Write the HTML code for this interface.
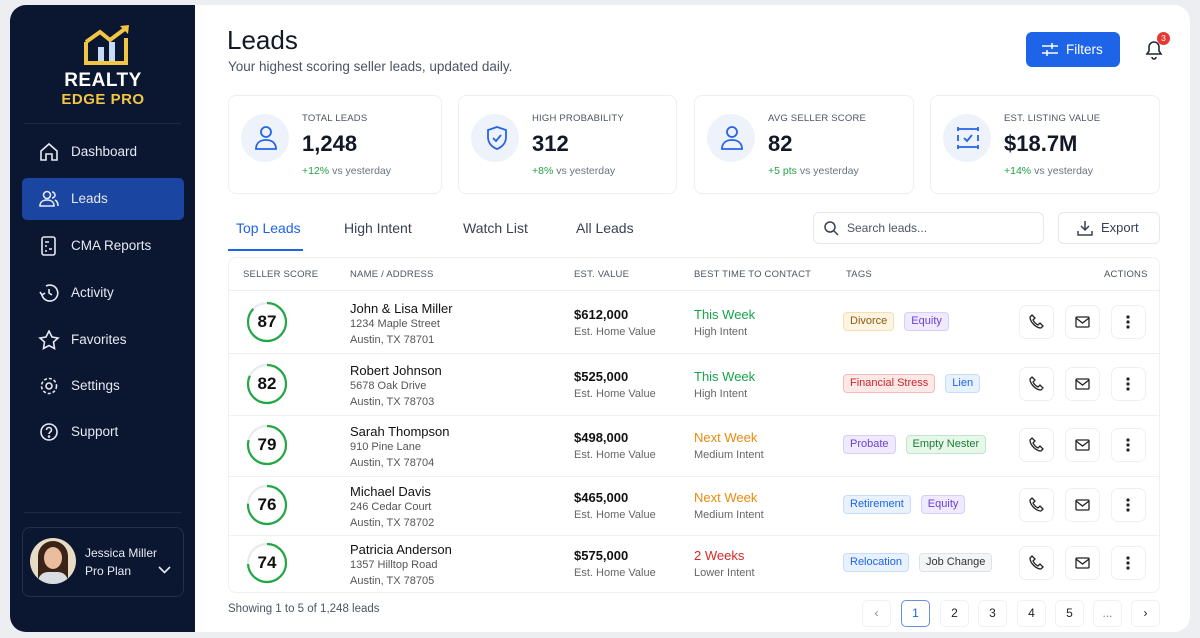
<!DOCTYPE html>
<html><head><meta charset="utf-8"><style>
*{margin:0;padding:0;box-sizing:border-box}
body{width:1200px;height:638px;background:#eceef2;font-family:"Liberation Sans",sans-serif;position:relative;overflow:hidden;color:#111827}
.a{position:absolute;white-space:nowrap}
#sb{position:absolute;left:10px;top:5px;width:186px;height:627px;background:#0b1731;border-radius:16px 0 0 16px}
#mn{position:absolute;left:195px;top:5px;width:995px;height:627px;background:#fff;border-radius:0 16px 16px 0}
.nav{position:absolute;left:71px;color:#e5e9f2;font-size:13.5px;line-height:20px}
.ic{position:absolute;left:38px}
.card{position:absolute;top:95px;height:99px;border:1px solid #eceff3;border-radius:8px;background:#fff}
.cic{position:absolute;left:12px;top:18px;width:48px;height:48px;border-radius:50%;background:#eef3fb}
.cl{position:absolute;left:73px;top:17px;font-size:9.5px;color:#4b5563;letter-spacing:.2px}
.cv{position:absolute;left:73px;top:35px;font-size:22px;font-weight:bold;color:#111827}
.cc{position:absolute;left:73px;top:69px;font-size:10.5px;color:#6b7280}
.cc b{color:#22a046;font-weight:normal}
.th{position:absolute;top:269px;font-size:9.5px;color:#4b5563;letter-spacing:.2px}
.tags{position:absolute;left:843px;display:flex;gap:10px}
.tag{height:19px;line-height:17px;font-size:11px;padding:0 6px;border-radius:4px;border:1px solid;white-space:nowrap}
.btn{position:absolute;width:35px;height:34px;border:1px solid #edf0f3;border-radius:7px;background:#fff}
.pg{position:absolute;top:600px;width:29px;height:27px;border:1px solid #f0f1f4;border-radius:5px;font-size:12px;text-align:center;line-height:25px;color:#222}
</style></head><body>
<div id="sb"></div>
<div id="mn"></div>
<svg class="a" style="left:82px;top:24px" width="50" height="42" viewBox="0 0 50 42">
<path d="M4 18 L18 8 L28 16 L44 4" fill="none" stroke="#f3c544" stroke-width="4"/>
<path d="M38 2 L47 1 L46 10 Z" fill="#f3c544"/>
<path d="M4 18 V39 H44 V14" fill="none" stroke="#f3c544" stroke-width="4"/>
<rect x="16" y="23" width="6" height="14" fill="#c6dbf5"/><rect x="27" y="18" width="6" height="19" fill="#c6dbf5"/>
</svg>
<div class="a" style="left:10px;width:186px;text-align:center;top:70px;color:#fff;font-weight:bold;font-size:19px;letter-spacing:.5px">REALTY</div>
<div class="a" style="left:10px;width:186px;text-align:center;top:91px;color:#f3c544;font-weight:bold;font-size:15px;letter-spacing:.5px">EDGE PRO</div>
<div class="a" style="left:24px;top:123px;width:157px;height:1px;background:#1f2b45"></div>
<div class="a" style="left:22px;top:178px;width:162px;height:42px;background:#1a45a0;border-radius:5px"></div>
<svg class="ic" style="top:142px" width="22" height="20" viewBox="0 0 22 20" fill="none" stroke="#e5e9f2" stroke-width="1.6"><path d="M3 9 L11 2 L19 9 V18 H14 V12 H8 V18 H3 Z"/></svg>
<div class="nav" style="top:142px">Dashboard</div>
<svg class="ic" style="top:189px" width="22" height="20" viewBox="0 0 22 20" fill="none" stroke="#e5e9f2" stroke-width="1.6"><circle cx="9" cy="6" r="3.5"/><path d="M2 17c0-4 3-6 7-6s7 2 7 6z"/><path d="M14 3a3 3 0 010 6M17 11c2 1 3 3 3 6"/></svg>
<div class="nav" style="top:189px">Leads</div>
<svg class="ic" style="top:236px" width="22" height="20" viewBox="0 0 22 20" fill="none" stroke="#e5e9f2" stroke-width="1.6"><rect x="4" y="1" width="13" height="18" rx="2"/><path d="M7 6h4M7 10h2M11 13h3M7 15h2"/></svg>
<div class="nav" style="top:236px">CMA Reports</div>
<svg class="ic" style="top:283px" width="22" height="20" viewBox="0 0 22 20" fill="none" stroke="#e5e9f2" stroke-width="1.6"><path d="M4 12a8 8 0 104-9"/><path d="M11 6v4l3 2M2 9l2 3 3-2"/></svg>
<div class="nav" style="top:283px">Activity</div>
<svg class="ic" style="top:330px" width="22" height="20" viewBox="0 0 22 20" fill="none" stroke="#e5e9f2" stroke-width="1.6"><path d="M11 1l3 6 6 1-4.5 4 1 6.5L11 15.5 5.5 18.5l1-6.5L2 8l6-1z"/></svg>
<div class="nav" style="top:330px">Favorites</div>
<svg class="ic" style="top:376px" width="22" height="20" viewBox="0 0 22 20" fill="none" stroke="#e5e9f2" stroke-width="1.6"><circle cx="11" cy="10" r="3"/><circle cx="11" cy="10" r="7.5" stroke-dasharray="3 2"/></svg>
<div class="nav" style="top:376px">Settings</div>
<svg class="ic" style="top:422px" width="22" height="20" viewBox="0 0 22 20" fill="none" stroke="#e5e9f2" stroke-width="1.6"><circle cx="11" cy="10" r="8"/><path d="M8.5 8a2.5 2.5 0 115 0c0 2-2.5 2-2.5 4"/><circle cx="11" cy="14.5" r=".5"/></svg>
<div class="nav" style="top:422px">Support</div>
<div class="a" style="left:24px;top:512px;width:157px;height:1px;background:#1f2b45"></div>
<div class="a" style="left:22px;top:527px;width:162px;height:70px;border:1px solid #23304a;border-radius:8px"></div>
<div class="a" style="left:30px;top:538px;width:46px;height:46px;border-radius:50%;background:#e8dcc5;overflow:hidden">
<div style="position:absolute;left:8px;top:3px;width:30px;height:44px;border-radius:15px 15px 4px 4px;background:#3a2418"></div>
<div style="position:absolute;left:14px;top:9px;width:18px;height:22px;border-radius:50%;background:#e9bd9d"></div>
<div style="position:absolute;left:8px;top:34px;width:30px;height:14px;border-radius:10px 10px 0 0;background:#d9dde2"></div></div>
<div class="a" style="left:85px;top:546px;color:#e8ebf2;font-size:12px">Jessica Miller</div>
<div class="a" style="left:85px;top:564px;color:#e8ebf2;font-size:12px">Pro Plan</div>
<svg class="a" style="left:158px;top:566px" width="13" height="9" viewBox="0 0 13 9" fill="none" stroke="#e8ebf2" stroke-width="1.6"><path d="M1 1l5.5 5.5L12 1"/></svg>

<div class="a" style="left:227px;top:25px;font-size:26px;color:#111827">Leads</div>
<div class="a" style="left:228px;top:59px;font-size:13.5px;color:#4b5563">Your highest scoring seller leads, updated daily.</div>
<div class="a" style="left:1026px;top:32px;width:94px;height:35px;background:#1d64e8;border-radius:6px;color:#fff;font-size:13.5px;line-height:35px;padding-left:40px">Filters</div>
<svg class="a" style="left:1042px;top:43px" width="16" height="13" viewBox="0 0 16 13" stroke="#fff" stroke-width="1.5"><path d="M0 3h16M0 10h16M10 0v6M5 7v6"/></svg>
<svg class="a" style="left:1143px;top:38px" width="22" height="22" viewBox="0 0 22 22" fill="none" stroke="#1f2937" stroke-width="1.6"><path d="M4 16h14l-2-3V9a5 5 0 00-10 0v4z"/><path d="M9 19a2 2 0 004 0"/></svg>
<div class="a" style="left:1157px;top:32px;width:13px;height:13px;border-radius:50%;background:#e53935;color:#fff;font-size:8.5px;text-align:center;line-height:13px">3</div>

<div class="card" style="left:228px;width:214px"><div class="cic"></div>
<svg class="a" style="left:25px;top:29px" width="24" height="26" viewBox="0 0 24 26" fill="none" stroke="#2563eb" stroke-width="1.8"><circle cx="12" cy="7" r="5"/><path d="M2 24c0-6 4-9 10-9s10 3 10 9z"/></svg>
<div class="cl">TOTAL LEADS</div><div class="cv">1,248</div><div class="cc"><b>+12%</b> vs yesterday</div></div>
<div class="card" style="left:458px;width:219px"><div class="cic"></div>
<svg class="a" style="left:26px;top:29px" width="24" height="26" viewBox="0 0 24 26" fill="none" stroke="#2563eb" stroke-width="1.8"><path d="M12 2l9 3v7c0 6-4 10-9 12-5-2-9-6-9-12V5z"/><path d="M8 13l3 3 5-6"/></svg>
<div class="cl">HIGH PROBABILITY</div><div class="cv">312</div><div class="cc"><b>+8%</b> vs yesterday</div></div>
<div class="card" style="left:694px;width:220px"><div class="cic"></div>
<svg class="a" style="left:25px;top:29px" width="24" height="26" viewBox="0 0 24 26" fill="none" stroke="#2563eb" stroke-width="1.8"><circle cx="12" cy="7" r="5"/><path d="M2 24c0-6 4-9 10-9s10 3 10 9z"/></svg>
<div class="cl">AVG SELLER SCORE</div><div class="cv">82</div><div class="cc"><b>+5 pts</b> vs yesterday</div></div>
<div class="card" style="left:930px;width:230px"><div class="cic"></div>
<svg class="a" style="left:24px;top:30px" width="26" height="24" viewBox="0 0 26 24" fill="none" stroke="#2563eb" stroke-width="1.8"><path d="M3 3h20M3 21h20M3 1v4M23 1v4M3 19v4M23 19v4M3 9v6M23 9v6M9 12l3 3 5-6"/></svg>
<div class="cl">EST. LISTING VALUE</div><div class="cv">$18.7M</div><div class="cc"><b>+14%</b> vs yesterday</div></div>

<div class="a" style="left:236px;top:220px;font-size:14px;color:#1d64e8">Top Leads</div>
<div class="a" style="left:228px;top:249px;width:75px;height:2px;background:#1d64e8"></div>
<div class="a" style="left:344px;top:220px;font-size:14px;color:#374151">High Intent</div>
<div class="a" style="left:463px;top:220px;font-size:14px;color:#374151">Watch List</div>
<div class="a" style="left:576px;top:220px;font-size:14px;color:#374151">All Leads</div>
<div class="a" style="left:813px;top:212px;width:231px;height:32px;border:1px solid #e5e7eb;border-radius:6px"></div>
<svg class="a" style="left:824px;top:221px" width="15" height="15" viewBox="0 0 15 15" fill="none" stroke="#374151" stroke-width="1.5"><circle cx="6" cy="6" r="5"/><path d="M10 10l4 4"/></svg>
<div class="a" style="left:847px;top:221px;font-size:12px;color:#4b5563">Search leads...</div>
<div class="a" style="left:1058px;top:212px;width:102px;height:32px;border:1px solid #e5e7eb;border-radius:6px;font-size:13px;line-height:30px;padding-left:42px;color:#374151">Export</div>
<svg class="a" style="left:1077px;top:220px" width="16" height="16" viewBox="0 0 16 16" fill="none" stroke="#374151" stroke-width="1.5"><path d="M8 1v9M4 6l4 4 4-4M1 11v4h14v-4"/></svg>

<div class="a" style="left:228px;top:257px;width:932px;height:336px;border:1px solid #eef0f3;border-radius:8px"></div>
<div class="th" style="left:243px">SELLER SCORE</div><div class="th" style="left:350px">NAME / ADDRESS</div>
<div class="th" style="left:574px">EST. VALUE</div><div class="th" style="left:694px">BEST TIME TO CONTACT</div>
<div class="th" style="left:846px">TAGS</div><div class="th" style="left:1104px">ACTIONS</div>
<div id="rows"></div>
<script>
var R=[[322,87,"John &amp; Lisa Miller","1234 Maple Street","Austin, TX 78701","$612,000","This Week","#16a34a","High Intent",[["Divorce","#fdf4e1","#f8dfae","#8a5a13"],["Equity","#efeafd","#d9cdfa","#6d3fd6"]]],
[384,82,"Robert Johnson","5678 Oak Drive","Austin, TX 78703","$525,000","This Week","#16a34a","High Intent",[["Financial Stress","#fde8e8","#f6b9b9","#c62828"],["Lien","#e8f1fe","#c7dcfb","#1d64e8"]]],
[445,79,"Sarah Thompson","910 Pine Lane","Austin, TX 78704","$498,000","Next Week","#ea8a0c","Medium Intent",[["Probate","#efeafd","#d9cdfa","#6d3fd6"],["Empty Nester","#e7f7ea","#bfe6c8","#1c7c36"]]],
[505,76,"Michael Davis","246 Cedar Court","Austin, TX 78702","$465,000","Next Week","#ea8a0c","Medium Intent",[["Retirement","#e8f1fe","#c7dcfb","#1d64e8"],["Equity","#efeafd","#d9cdfa","#6d3fd6"]]],
[563,74,"Patricia Anderson","1357 Hilltop Road","Austin, TX 78705","$575,000","2 Weeks","#dc2626","Lower Intent",[["Relocation","#e8f1fe","#c7dcfb","#1d64e8"],["Job Change","#f4f5f7","#dfe2e6","#333"]]]];
var h="",C=2*Math.PI*19;
R.forEach(function(r,i){var y=r[0];
if(i<4)h+='<div class="a" style="left:229px;top:'+(i==3?y+30:y+31)+'px;width:930px;height:1px;background:#eef0f3"></div>';
if(i==0)h+='<div class="a" style="left:229px;top:290px;width:930px;height:1px;background:#eef0f3"></div>';
h+='<svg class="a" style="left:246px;top:'+(y-21)+'px" width="42" height="42"><circle cx="21" cy="21" r="19" fill="none" stroke="#e8eaee" stroke-width="2.2"/><circle cx="21" cy="21" r="19" fill="none" stroke="#22a745" stroke-width="2.2" stroke-dasharray="'+(C*r[1]/100)+' 200" transform="rotate(-90 21 21)"/></svg>';
h+='<div class="a" style="left:246px;width:42px;text-align:center;top:'+(y-10)+'px;font-size:17px;font-weight:bold;color:#111">'+r[1]+'</div>';
h+='<div class="a" style="left:350px;top:'+(y-21)+'px;font-size:13px;color:#111">'+r[2]+'</div>';
h+='<div class="a" style="left:350px;top:'+(y-4)+'px;font-size:11px;color:#555">'+r[3]+'</div>';
h+='<div class="a" style="left:350px;top:'+(y+12)+'px;font-size:11px;color:#555">'+r[4]+'</div>';
h+='<div class="a" style="left:574px;top:'+(y-15)+'px;font-size:13px;font-weight:bold;color:#111">'+r[5]+'</div>';
h+='<div class="a" style="left:574px;top:'+(y+4)+'px;font-size:11px;color:#666">Est. Home Value</div>';
h+='<div class="a" style="left:694px;top:'+(y-15)+'px;font-size:13px;color:'+r[7]+'">'+r[6]+'</div>';
h+='<div class="a" style="left:694px;top:'+(y+4)+'px;font-size:11px;color:#666">'+r[8]+'</div>';
h+='<div class="tags" style="top:'+(y-10)+'px">';
r[9].forEach(function(t){h+='<span class="tag" style="background:'+t[1]+';border-color:'+t[2]+';color:'+t[3]+'">'+t[0]+'</span>';});
h+='</div>';
[1019,1065,1111].forEach(function(bx){h+='<div class="btn" style="left:'+bx+'px;top:'+(y-17)+'px"></div>';});
h+='<svg class="a" style="left:1029px;top:'+(y-8)+'px" width="15" height="15" viewBox="0 0 15 15" fill="none" stroke="#222" stroke-width="1.3"><path d="M3 1l3 3-2 2c1 2 3 4 5 5l2-2 3 3-2 2C7 14 1 8 1 3z"/></svg>';
h+='<svg class="a" style="left:1075px;top:'+(y-6)+'px" width="15" height="12" viewBox="0 0 15 12" fill="none" stroke="#222" stroke-width="1.3"><rect x="1" y="1" width="13" height="10" rx="1"/><path d="M1 2l6.5 5L14 2"/></svg>';
h+='<svg class="a" style="left:1126px;top:'+(y-7)+'px" width="4" height="14"><circle cx="2" cy="2" r="1.6" fill="#222"/><circle cx="2" cy="7" r="1.6" fill="#222"/><circle cx="2" cy="12" r="1.6" fill="#222"/></svg>';
});
document.getElementById("rows").innerHTML=h;
</script>
<div class="a" style="left:228px;top:603px;font-size:11.5px;color:#4b5563">Showing 1 to 5 of 1,248 leads</div>
<div class="pg" style="left:862px;color:#888">‹</div>
<div class="pg" style="left:901px;border-color:#6b8fe0;color:#1d64e8">1</div>
<div class="pg" style="left:940px">2</div><div class="pg" style="left:978px">3</div>
<div class="pg" style="left:1017px">4</div><div class="pg" style="left:1055px">5</div>
<div class="pg" style="left:1093px;color:#888">...</div><div class="pg" style="left:1131px">›</div>
</body></html>
